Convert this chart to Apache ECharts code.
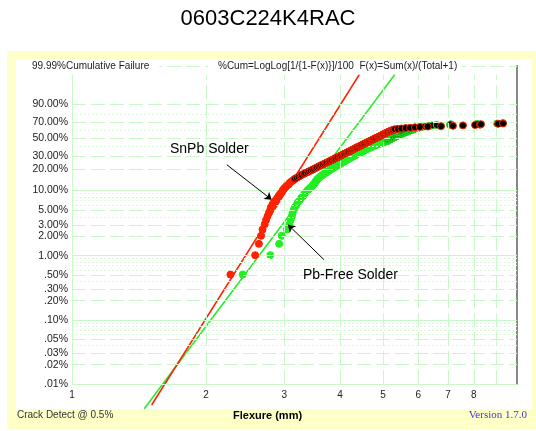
<!DOCTYPE html>
<html>
<head>
<meta charset="utf-8">
<script src="https://cdn.jsdelivr.net/npm/echarts@6/dist/echarts.min.js"></script>
<style>
html, body { margin: 0; padding: 0; background: #fff; }
#main { width: 536px; height: 431px; }
</style>
</head>
<body>
<div id="main"></div>
<script>
// flexure (mm) at each failure, in failure order
var snpbFlex = [
  2.27, 2.58, 2.63, 2.66, 2.68, 2.71, 2.73, 2.75, 2.77, 2.79,
  2.80, 2.82, 2.84, 2.87, 2.89, 2.91, 2.93, 2.95, 2.97, 2.98,
  3.00, 3.02, 3.04, 3.07, 3.08, 3.10, 3.13, 3.15, 3.17, 3.20,
  3.23, 3.26, 3.28, 3.32, 3.34, 3.38, 3.41, 3.44, 3.47, 3.50,
  3.53, 3.55, 3.58, 3.61, 3.63, 3.66, 3.69, 3.72, 3.74, 3.77,
  3.79, 3.82, 3.84, 3.87, 3.89, 3.91, 3.94, 3.96, 3.99, 4.01,
  4.03, 4.06, 4.08, 4.10, 4.13, 4.15, 4.17, 4.19, 4.22, 4.24,
  4.26, 4.28, 4.30, 4.32, 4.34, 4.36, 4.38, 4.41, 4.43, 4.45,
  4.47, 4.49, 4.51, 4.53, 4.55, 4.58, 4.60, 4.62, 4.64, 4.66,
  4.68, 4.70, 4.72, 4.74, 4.76, 4.78, 4.80, 4.82, 4.85, 4.87,
  4.89, 4.91, 4.93, 4.95, 4.97, 4.99, 5.01, 5.03, 5.05, 5.07,
  5.09, 5.11, 5.13, 5.16, 5.18, 5.20, 5.23, 5.26, 5.29, 5.32,
  5.40, 5.50, 5.62, 5.75, 5.90, 6.05, 6.30, 6.75, 7.18, 7.56,
  8.05, 8.26, 8.30, 9.07, 9.30
];
var pbfreeFlex = [
  2.42, 2.79, 2.92, 2.96, 3.04, 3.08, 3.10, 3.12, 3.13, 3.15,
  3.17, 3.20, 3.22, 3.25, 3.27, 3.30, 3.32, 3.34, 3.37, 3.39,
  3.42, 3.45, 3.47, 3.49, 3.51, 3.52, 3.54, 3.55, 3.57, 3.59,
  3.61, 3.64, 3.66, 3.69, 3.71, 3.74, 3.76, 3.79, 3.81, 3.84,
  3.86, 3.88, 3.91, 3.93, 3.96, 3.98, 4.01, 4.03, 4.05, 4.08,
  4.10, 4.12, 4.14, 4.17, 4.19, 4.22, 4.24, 4.26, 4.29, 4.31,
  4.33, 4.35, 4.37, 4.39, 4.42, 4.44, 4.46, 4.49, 4.51, 4.53,
  4.56, 4.58, 4.61, 4.63, 4.65, 4.68, 4.70, 4.73, 4.75, 4.78,
  4.81, 4.84, 4.87, 4.90, 4.93, 4.96, 4.99, 5.02, 5.06, 5.10,
  5.12, 5.14, 5.16, 5.18, 5.20, 5.22, 5.24, 5.26, 5.28, 5.30,
  5.33, 5.35, 5.38, 5.40, 5.43, 5.45, 5.48, 5.50, 5.53, 5.55,
  5.58, 5.61, 5.64, 5.67, 5.70, 5.73, 5.76, 5.79, 5.82, 5.85,
  5.88, 5.92, 5.96, 6.00, 6.05, 6.10, 6.20, 6.30, 6.38, 6.45,
  6.60, 7.07, 7.10, 8.13, 9.02, 9.30
];
var TOTAL = 195;

// fitted lines: [flexure, cumulative %]
var snpbFit = [[1.51, 0.0047], [4.42, 99.88]];
var pbfreeFit = [[1.453, 0.0041], [5.31, 99.88]];

var yTickPct = [0.01, 0.02, 0.03, 0.05, 0.1, 0.2, 0.3, 0.5, 1, 2, 3, 5, 10, 20, 30, 50, 70, 90];
var yTickLabels = ['.01%', '.02%', '.03%', '.05%', '.10%', '.20%', '.30%', '.50%', '1.00%', '2.00%',
  '3.00%', '5.00%', '10.00%', '20.00%', '30.00%', '50.00%', '70.00%', '90.00%'];
var ySolidPct = [0.01, 0.1, 1, 10];
var yMinorPct = [0.04, 0.06, 0.07, 0.08, 0.09, 0.4, 0.6, 0.7, 0.8, 0.9, 4, 6, 7, 8, 9, 40, 60, 80];
var xTicks = [1, 2, 3, 4, 5, 6, 7, 8, 9];
var xTickLabels = ['1', '2', '3', '4', '5', '6', '7', '8', ''];

// arrows: [flexure, %] from -> to
var snpbArrow = [[2.227, 23.3], [2.811, 7.26]];
var pbfreeArrow = [[3.684, 0.868], [3.058, 3.02]];

var PCT_MIN = 0.01, PCT_MAX = 99.99, PCT_GRIDTOP = 99.88;
var RED = '#ff2200', GREEN = '#22ee22', GRID = '#c8f8c8';
var FONT = 'Liberation Sans, Arial, sans-serif';

function w(pct) {
  return Math.log(-Math.log(1 - pct / 100));
}

var gridLines = [];
yTickPct.forEach(function (p, i) {
  var solid = ySolidPct.indexOf(p) >= 0;
  gridLines.push([
    { coord: [1, w(p)], lineStyle: { color: GRID, type: solid ? 'solid' : [14, 5], width: 1 },
      label: { show: true, position: 'start', formatter: yTickLabels[i], color: '#222', fontSize: 10.5, fontFamily: FONT, distance: 4 } },
    { coord: [10, w(p)] }
  ]);
});
yMinorPct.forEach(function (p) {
  gridLines.push([
    { coord: [1, w(p)], lineStyle: { color: '#d8fad8', type: [2, 2], width: 1 }, label: { show: false } },
    { coord: [10, w(p)] }
  ]);
});
gridLines.push([
  { coord: [1, w(PCT_MAX)], lineStyle: { color: GRID, type: [14, 5], width: 1 }, label: { show: false } },
  { coord: [10, w(PCT_MAX)] }
]);
xTicks.forEach(function (v, i) {
  gridLines.push([
    { coord: [v, w(PCT_MIN)], lineStyle: { color: GRID, type: v === 1 ? 'solid' : [14, 5], width: 1 },
      label: { show: true, position: 'start', formatter: xTickLabels[i], color: '#222', fontSize: 10, fontFamily: FONT, distance: 6 } },
    { coord: [v, w(PCT_GRIDTOP)] }
  ]);
});

function points(list) {
  return list.map(function (x, i) {
    return [x, w((i + 1) / (TOTAL + 1) * 100), i + 1];
  });
}
function fit(list) {
  return list.map(function (p) { return [p[0], w(p[1])]; });
}
function arrow(a) {
  return [{ coord: [a[0][0], w(a[0][1])] }, { coord: [a[1][0], w(a[1][1])] }];
}

var chart = echarts.init(document.getElementById('main'));

var option = {
  animation: false,
  backgroundColor: '#fff',
  grid: { left: 72, right: 19, top: 66, bottom: 47 },
  xAxis: {
    type: 'log', logBase: 10, min: 1, max: 10,
    axisLine: { show: true, onZero: false, lineStyle: { color: GRID } },
    axisTick: { show: false }, axisLabel: { show: false }, splitLine: { show: false }
  },
  yAxis: [{
    type: 'value', min: w(PCT_MIN), max: w(PCT_MAX),
    axisLine: { show: false }, axisTick: { show: false }, axisLabel: { show: false }, splitLine: { show: false }
  }, {
    type: 'value', position: 'right', min: w(PCT_MIN), max: w(PCT_MAX),
    axisLine: { show: true, lineStyle: { color: '#888', width: 2 } },
    axisTick: { show: false }, axisLabel: { show: false }, splitLine: { show: false }
  }],
  graphic: [
    { type: 'rect', z: -10, shape: { x: 7, y: 51, width: 529, height: 378 }, style: { fill: '#ffffc8' } },
    { type: 'rect', z: -9, shape: { x: 16, y: 59, width: 516, height: 350 }, style: { fill: '#fff' } },
    { type: 'text', left: 'center', top: 8, style: { text: '0603C224K4RAC', fontSize: 22, fontFamily: FONT, fill: '#000' } },
    { type: 'text', z: 100, left: 28, top: 60, style: { text: '99.99%Cumulative Failure', fontSize: 10, fontFamily: FONT, fill: '#222', backgroundColor: '#fff', padding: [1, 10, 1, 4] } },
    { type: 'text', z: 100, left: 208, top: 60, style: { text: '%Cum=LogLog[1/{1-F(x)}]/100  F(x)=Sum(x)/(Total+1)', fontSize: 10, fontFamily: FONT, fill: '#222', backgroundColor: '#fff', padding: [1, 4, 1, 10] } },
    { type: 'text', z: 100, left: 170, top: 142, style: { text: 'SnPb Solder', fontSize: 14, fontFamily: FONT, fill: '#000' } },
    { type: 'text', z: 100, left: 303, top: 268, style: { text: 'Pb-Free Solder', fontSize: 14, fontFamily: FONT, fill: '#000' } },
    { type: 'text', left: 17, top: 410, style: { text: 'Crack Detect @ 0.5%', fontSize: 10, fontFamily: FONT, fill: '#333' } },
    { type: 'text', left: 233, top: 410, style: { text: 'Flexure (mm)', fontSize: 11, fontWeight: 'bold', fontFamily: FONT, fill: '#000' } },
    { type: 'text', right: 9, top: 410, style: { text: 'Version 1.7.0', fontSize: 11, fontFamily: 'Liberation Serif, Times New Roman, serif', fill: '#3b3bd8' } }
  ],
  series: [
    {
      name: 'grid', type: 'line', data: [], z: 1, silent: true,
      markLine: { silent: true, symbol: 'none', animation: false, data: gridLines }
    },
    {
      name: 'Pb-Free fit', type: 'line', data: fit(pbfreeFit), showSymbol: false, clip: false, z: 3,
      lineStyle: { color: GREEN, width: 1.5, type: 'solid' }
    },
    {
      name: 'SnPb fit', type: 'line', data: fit(snpbFit), showSymbol: false, clip: false, z: 3,
      lineStyle: { color: RED, width: 1.5, type: 'solid' }
    },
    {
      name: 'Pb-Free Solder', type: 'scatter', data: points(pbfreeFlex), symbolSize: 7, z: 4,
      itemStyle: {
        color: function (p) { return p.value[2] > 90 ? '#000' : GREEN; },
        borderColor: GREEN, borderWidth: 1, opacity: 1
      }
    },
    {
      name: 'SnPb Solder', type: 'scatter', data: points(snpbFlex), symbolSize: 7, z: 5,
      itemStyle: {
        color: function (p) { return p.value[2] > 28 ? '#000' : RED; },
        borderColor: RED, borderWidth: 1, opacity: 1
      }
    },
    {
      name: 'arrows', type: 'line', data: [], z: 6, silent: true,
      markLine: {
        silent: true, symbol: ['none', 'arrow'], symbolSize: 7, animation: false,
        lineStyle: { color: '#000', width: 1, type: 'solid' }, label: { show: false },
        data: [arrow(snpbArrow), arrow(pbfreeArrow)]
      }
    }
  ]
};

chart.setOption(option);
</script>
</body>
</html>
